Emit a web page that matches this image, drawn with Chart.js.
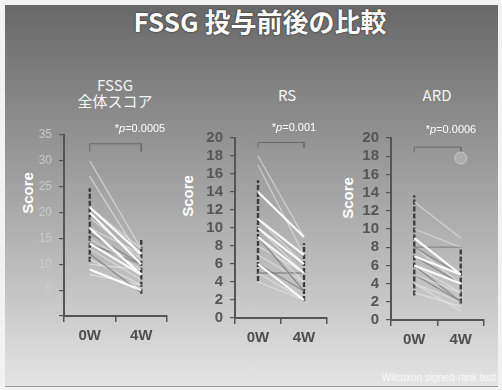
<!DOCTYPE html>
<html><head><meta charset="utf-8">
<script src="https://cdn.jsdelivr.net/npm/chart.js@4/dist/chart.umd.min.js"></script>
<style>
html,body{margin:0;padding:0;width:502px;height:390px;overflow:hidden;background:#f2f2f2;}
#slide{position:absolute;left:5px;top:5px;width:493px;height:381px;
  background:linear-gradient(#686868 0%, #a6a6a6 51%, #e4e4e4 100%);border-bottom:1px solid #9c9c9c;}
canvas{position:absolute;}
.t{position:absolute;color:#f4f4f4;white-space:nowrap;font-family:"Noto Sans CJK JP","Noto Sans",sans-serif;}
#title{left:0;width:520px;top:2px;text-align:center;font-size:26px;font-weight:bold;color:#fff;
  text-shadow:0 0 2px #333,0 0 1px #222;}
.ptitle{font-size:15px;text-align:center;line-height:16px;transform:translateX(-50%);}
.score{font-family:"Liberation Sans",Arial,sans-serif;font-weight:bold;font-size:15px;color:#fff;
  transform:translate(-50%,-50%) rotate(-90deg);}
.pval{font-family:"Liberation Sans",Arial,sans-serif;font-size:11px;color:#fff;transform:translate(-50%,-50%);}
#note{right:6px;top:372px;font-family:"Liberation Sans",Arial,sans-serif;font-size:10px;color:rgba(255,255,255,0.85);}
</style></head>
<body>
<div id="slide"></div>
<div class="t" id="title">FSSG 投与前後の比較</div>
<div class="t ptitle" style="left:115px;top:77px;">FSSG<br>全体スコア</div>
<div class="t ptitle" style="left:287px;top:87px;">RS</div>
<div class="t ptitle" style="left:437px;top:87px;">ARD</div>
<div class="t score" style="left:27px;top:193px;">Score</div>
<div class="t score" style="left:187px;top:196px;">Score</div>
<div class="t score" style="left:347px;top:198px;">Score</div>
<canvas id="c1" width="161" height="252" style="left:14px;top:100px;"></canvas>
<canvas id="c2" width="150" height="254" style="left:185px;top:100px;"></canvas>
<canvas id="c3" width="151" height="256" style="left:341px;top:100px;"></canvas>
<div class="t pval" id="p1" style="left:140px;top:128px;"></div>
<div class="t pval" id="p2" style="left:294px;top:127px;"></div>
<div class="t pval" id="p3" style="left:451px;top:129px;"></div>
<div class="t" id="note">Wilcoxon signed-rank test</div>
<script>
// Time points
const weeks = ['0W', '4W'];

// FSSG total score, per subject
const fssgBefore = [30, 27, 21, 21, 20, 19, 17, 17, 16, 15, 14, 14, 13, 12, 11, 10, 9, 8];
const fssgAfter  = [13, 11, 12, 13, 10, 11,  8, 12, 10,  9,  8, 10,  7, 4.5, 6,  9, 5, 6];
// RS sub-score, per subject
const rsBefore = [18, 17, 14, 11, 11, 10, 10, 9, 9, 9, 8, 7, 6, 6, 5, 5, 4];
const rsAfter  = [ 9,  7,  9,  7,  6,  6,  5, 5, 4, 3, 5, 4, 3, 2, 5, 2, 2];
// ARD sub-score, per subject
const ardBefore = [13, 10, 8, 9, 9, 8, 8, 7, 7, 6, 6, 5, 5, 4, 4, 3, 6];
const ardAfter  = [ 9,  8, 8, 5, 5, 5, 4, 5, 4, 3, 4, 3, 2, 2, 1, 1.5, 2];

// Spread bars (low, high) at 0W and 4W
const fssgBar0 = [10.5, 24.7], fssgBar4 = [4.3, 14.7];
const rsBar0 = [4.1, 15.3],    rsBar4 = [1.9, 8.3];
const ardBar0 = [2.7, 13.7],   ardBar4 = [1.8, 8.0];

// Axis maxima and tick steps
const axisMax = [35, 20, 20];
const axisStep = [5, 2, 2];

// Significance brackets: bar level and foot level
const bracketTop = [33.3, 19.5, 19.0];
const bracketFoot = [31.8, 18.9, 18.4];
const pValues = ['0.0005', '0.001', '0.0006'];

// Highlight mark in the ARD panel
const ardMarker = [17.8];

// Line tone per subject (h = bright, m = pale, d = dim)
const fssgTones = ['m','m','h','m','h','m','h','m','d','m','h','d','m','d','m','m','h','m'];
const rsTones   = ['m','m','h','h','m','h','m','h','m','d','m','m','d','h','d','m','m'];
const ardTones  = ['m','m','d','h','m','d','m','h','d','m','h','m','d','m','m','m','d'];

const toneStyles = {
  h: {color: 'rgba(255,255,255,0.95)', width: 2.2, order: 3},
  m: {color: 'rgba(236,236,236,0.6)', width: 1.2, order: 4},
  d: {color: 'rgba(120,120,120,0.75)', width: 1.3, order: 4}
};

const AX = '#555';

function panel(id, before, after, tones, bar0, bar4, idx, tickColor, tickFont, extra) {
  const datasets = [];
  before.forEach((b, i) => {
    const t = toneStyles[tones[i]];
    datasets.push({data: [b, after[i]], borderColor: t.color, borderWidth: t.width,
      pointRadius: 0, order: t.order, tension: 0});
  });
  [[weeks[0], bar0], [weeks[1], bar4]].forEach(([w, r]) => {
    datasets.push({data: [{x: w, y: r[0]}, {x: w, y: r[1]}], borderColor: '#3d3d3d',
      borderWidth: 2.4, borderDash: [5, 2], pointRadius: 0, order: 5});
  });
  datasets.push({data: [{x: weeks[0], y: bracketFoot[idx]}, {x: weeks[0], y: bracketTop[idx]},
      {x: weeks[1], y: bracketTop[idx]}, {x: weeks[1], y: bracketFoot[idx]}],
    borderColor: '#6a6a6a', borderWidth: 1, pointRadius: 0, order: 2});
  if (extra) datasets.push(extra);

  new Chart(document.getElementById(id), {
    type: 'line',
    data: {labels: weeks, datasets},
    options: {
      responsive: false, animation: false, devicePixelRatio: 1,
      layout: {padding: {top: idx === 0 ? 35 : 38, right: 8, left: 0, bottom: 0}},
      plugins: {legend: {display: false}, tooltip: {enabled: false}},
      scales: {
        x: {
          type: 'category', offset: true,
          grid: {offset: true, drawOnChartArea: false, tickLength: 6, color: AX, lineWidth: 1.5},
          border: {color: AX, width: 2},
          ticks: {color: '#4f4f4f', padding: 5, font: {family: '"Liberation Sans", Arial, sans-serif', size: 15, weight: 'bold'}},
          afterFit: s => { s.height = 36; }
        },
        y: {
          min: 0, max: axisMax[idx],
          ticks: {stepSize: axisStep[idx], autoSkip: false, color: tickColor, padding: 7, font: tickFont},
          grid: {drawOnChartArea: false, tickLength: 5, color: AX, lineWidth: 1.2},
          border: {color: AX, width: 2},
          afterFit: s => { s.width = 50; }
        }
      }
    }
  });
  document.getElementById('p' + (idx + 1)).innerHTML = '*<i>p</i>=' + pValues[idx];
}

const narrowBold = {family: '"Liberation Sans Narrow", "Liberation Sans", Arial, sans-serif', size: 15, weight: 'bold'};
panel('c1', fssgBefore, fssgAfter, fssgTones, fssgBar0, fssgBar4, 0, 'rgba(205,205,205,0.9)',
  {family: '"Liberation Sans Narrow", "Liberation Sans", Arial, sans-serif', size: 12});
panel('c2', rsBefore, rsAfter, rsTones, rsBar0, rsBar4, 1, '#565656', narrowBold);
panel('c3', ardBefore, ardAfter, ardTones, ardBar0, ardBar4, 2, '#565656', narrowBold,
  {data: [{x: weeks[1], y: ardMarker[0]}], pointRadius: 6, pointBackgroundColor: 'rgba(190,190,190,0.55)',
   pointBorderColor: 'rgba(215,215,215,0.7)', pointBorderWidth: 1, showLine: false, order: 1});
</script>
</body></html>
